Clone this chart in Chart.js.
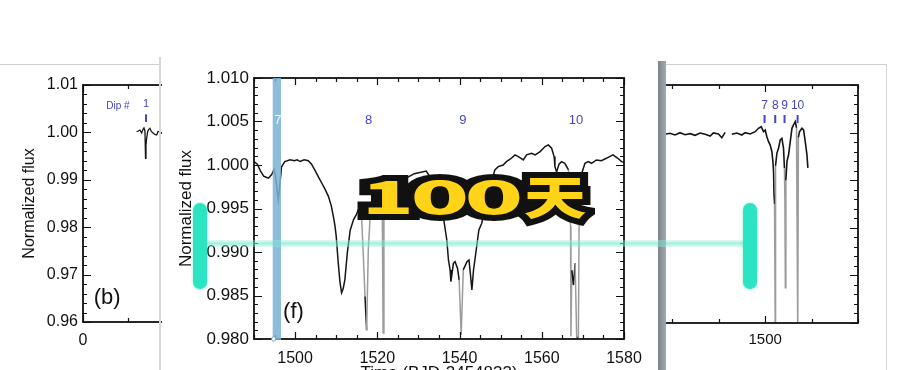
<!DOCTYPE html>
<html>
<head>
<meta charset="utf-8">
<title>Normalized flux</title>
<script src="https://cdn.jsdelivr.net/npm/chart.js@4.4.1/dist/chart.umd.min.js"></script>
<style>
  html, body { margin: 0; padding: 0; background: #fff; }
  #stage { position: relative; width: 900px; height: 370px; overflow: hidden; background: #fff; }
  canvas { position: absolute; top: 0; }
  .box { position: absolute; }
  #panelF { left: 162px; top: 0; width: 496px; height: 370px; background: #fff; }
  #hline { left: 205px; top: 240px; width: 540px; height: 7px;
    background: linear-gradient(rgba(160,240,225,0.35), rgba(110,228,205,0.6) 50%, rgba(160,240,225,0.35)); }
  .vbar { top: 203px; width: 14px; height: 86px; border-radius: 7px; background: #2ce4c1;
    box-shadow: 0 0 3px rgba(44,228,193,0.6); }
  .big { position: absolute; top: 171px; width: 80px; margin-left: -40px; text-align: center;
    font: 900 46px "Noto Sans CJK SC", sans-serif; line-height: 46px; }
  .big.edge { color: #111; -webkit-text-stroke: 12px #111; }
  .big.fill { color: #ffd317; }
</style>
</head>
<body>
<div id="stage">
  <canvas id="chartB" width="370" height="370" style="left:0"></canvas>
  <canvas id="chartR" width="300" height="370" style="left:600px"></canvas>
  <div id="panelF" class="box"><canvas id="chartF" width="496" height="370" style="left:0"></canvas></div>

  <!-- edges of the pasted figures -->
  <div class="box" style="left:0;top:64px;width:160px;height:1px;background:#cfcfcf"></div>
  <div class="box" style="left:159px;top:57px;width:2px;height:313px;background:#d8d8d8"></div>
  <div class="box" style="left:666px;top:64px;width:221px;height:1px;background:#cfcfcf"></div>
  <div class="box" style="left:886px;top:64px;width:1px;height:306px;background:#d4d4d4"></div>
  <div class="box" style="left:658px;top:61px;width:8px;height:309px;background:linear-gradient(90deg,#7d838c,#a4a9b1)"></div>

  <!-- marker overlays -->
  <div id="hline" class="box"></div>
  <div class="box vbar" style="left:193px"></div>
  <div class="box vbar" style="left:743px"></div>

  <span class="big edge" style="left:388px;transform:scaleX(1.85)">1</span>
  <span class="big edge" style="left:440px;transform:scaleX(2.1)">0</span>
  <span class="big edge" style="left:494px;transform:scaleX(2.1)">0</span>
  <span class="big edge" style="left:555px;transform:scaleX(1.36)">天</span>
  <span class="big fill" style="left:388px;transform:scaleX(1.85)">1</span>
  <span class="big fill" style="left:440px;transform:scaleX(2.1)">0</span>
  <span class="big fill" style="left:494px;transform:scaleX(2.1)">0</span>
  <span class="big fill" style="left:555px;transform:scaleX(1.36)">天</span>
</div>

<script>
// panel (b) - start of the light curve, only dip 1 is visible
const bDays = [120.1, 124, 127.5, 131.3, 134, 136.5, 138.7, 140.0, 141, 142, 144.7, 147, 149.9, 153, 157.3, 161, 164.9, 168, 172, 176, 180];
const bFlux = [1.00015, 1.0003, 1.0005, 0.99987, 1.0006, 1.00093, 1.0003, 0.99454, 0.9972, 0.9984, 1.00015, 1.0006, 1.00087, 1.0002, 0.99981, 0.9996, 0.99945, 1.0002, 1.0001, 0.9998, 1.0003];
const bTicksX = [0];
const bTicksY = [0.96, 0.97, 0.98, 0.99, 1.00, 1.01];
const bDipNames = ['1'];
const bDipDays = [141];

// panel (f) - dips 7 to 10
const fDays = [1490.0, 1490.8, 1491.6, 1492.4, 1493.5, 1494.3, 1494.9, 1495.3, 1495.9, 1496.3, 1496.7, 1497.5,
  1498.8, 1499.8, 1500.5, 1501.2, 1502.2, 1503.2, 1504.0, 1504.8, 1505.6, 1506.5, 1507.3, 1508.1, 1508.8,
  1509.3, 1509.7, 1510.0, 1510.5, 1510.9, 1511.3, 1511.7, 1512.1, 1512.7, 1513.4, 1514.2, 1514.8, 1515.4,
  1516.2, 1516.6, 1517.0, 1517.4, 1517.8, 1518.3, 1520.0, 1521.2, 1521.4, 1521.6, 1523.0, 1525.0, 1527.0,
  1529.0, 1531.9, 1533.0, 1534.0, 1535.2, 1536.1, 1536.9, 1537.3, 1537.7, 1537.9, 1538.5, 1538.9, 1539.5,
  1539.9, 1540.4, 1540.9, 1541.8, 1542.3, 1542.7, 1543.0, 1543.4, 1544.0, 1544.7, 1545.4, 1546.4, 1547.4,
  1548.0, 1548.6, 1549.4, 1550.6, 1551.4, 1552.3, 1553.5, 1554.3, 1555.5, 1556.3, 1557.5, 1558.4, 1559.6,
  1560.8, 1561.6, 1562.4, 1563.0, 1563.2, 1563.6, 1564.2, 1564.8, 1565.6, 1566.5, 1567.0, 1567.1, 1567.3,
  1567.7, 1568.1, 1568.5, 1568.9, 1569.1, 1569.7, 1570.5, 1571.3, 1572.1, 1573.3, 1574.5, 1575.7, 1577.3,
  1578.5, 1579.4, 1580.0];
const fFlux = [1.0004, 1.0001, 0.9993, 0.9987, 0.99848, 0.9989, 0.99951, 0.9985, 0.9960, 0.9978, 0.9998, 1.0004,
  1.0006, 1.0005, 1.0006, 1.0004, 1.0006, 1.0005, 1.0001, 0.9994, 0.9987, 0.9979, 0.9972, 0.9964, 0.9953,
  0.9941, 0.9930, 0.9918, 0.9887, 0.9866, 0.9853, 0.9858, 0.9868, 0.9899, 0.9925, 0.9937, 0.9942, 0.9949,
  0.9937, 0.9895, 0.9849, 0.9810, 0.9902, 0.9945, 0.9960, 0.9955, 0.9807, 0.9950, 0.9968, 0.9978, 0.9985,
  0.9990, 0.9993, 0.9985, 0.9972, 0.9955, 0.99388, 0.99138, 0.98908, 0.98794, 0.98659, 0.98870, 0.98889, 0.98813,
  0.98679, 0.98046, 0.98794, 0.98889, 0.98909, 0.98717, 0.98564, 0.98794, 0.99004, 0.99254, 0.99331, 0.9955, 0.99656,
  0.9985, 0.99944, 0.99981, 1.0000, 1.00039, 1.00066, 1.00116, 1.00097, 1.00058, 1.00116, 1.00135, 1.00116, 1.00154,
  1.00212, 1.00231, 1.00193, 1.00097, 0.99981, 0.9992, 1.0001, 1.00039, 1.0002, 0.99944, 0.9930, 0.9803, 0.9879,
  0.9862, 0.9887, 0.9802, 0.9801, 0.9950, 0.9990, 1.0002, 1.0004, 1.0002, 1.00058, 1.0005, 1.00077, 1.00116,
  1.00077, 1.00039, 1.0003];
const fTicksX = [1500, 1520, 1540, 1560, 1580];
const fTicksY = [0.980, 0.985, 0.990, 0.995, 1.000, 1.005, 1.010];
const fDipNames = ['7', '8', '9', '10'];
const fDipDays = [1495.8, 1517.9, 1540.8, 1568.3];
const fBand = [1494.55, 1496.57];

// right panel - end of the light curve, dips 7 to 10 squeezed together
const rDays = [1284.2, 1294.9, 1305.7, 1316.5, 1327.3, 1338.1, 1348.9, 1359.7, 1370.5, 1381.3, 1388.4, 1399.2,
  1406.5, 1413.7, 1420.0, 1428.1, 1438.9, 1449.7, 1456.8, 1467.6, 1478.4, 1485.5, 1491.4, 1496.4, 1500.0,
  1503.6, 1507.2, 1510.8, 1514.4, 1516.6, 1518.0, 1519.0, 1520.2, 1521.6, 1522.2, 1525.2, 1528.7, 1532.4,
  1536.0, 1539.5, 1541.5, 1542.5, 1543.5, 1544.5, 1547.0, 1550.3, 1554.0, 1557.6, 1561.1, 1564.8, 1567.5,
  1570.1, 1571.5, 1574.0, 1579.2, 1582.7, 1586.3, 1590.0, 1592.0];
const rFlux = [0.99964, 0.99985, 0.99950, 0.99998, 0.99956, 0.99977, 0.99943, 0.99992, 0.99964, 0.99929, 0.99992, 0.99971,
  0.99893, 1.00006, null, 0.99964, 0.99992, 0.99950, 0.99998, 0.99971, 1.00019, 1.00090, 1.00124, 1.00019, 1.00055,
  0.99914, 0.99809, 0.99739, 0.99599, 0.99389, 0.99178, 0.9870, 0.9850, 0.9602, 0.9930, 0.99565, 0.9967, 0.99845,
  0.9988, 0.9967, 0.9925, 0.9865, 0.9674, 0.9900, 0.9940, 0.99529, 0.99809, 1.0009, 1.0016, 1.00229, 1.0010,
  0.9602, 0.9990, 1.00019, 1.0009, 1.00055, 0.99809, 0.99529, 0.9926];
const rTicksX = [1500];
const rDipNames = ['7', '8', '9', '10'];
const rDipDays = [1498.6, 1521.6, 1541.7, 1569.8];

const FONT = '"Liberation Sans", Arial, sans-serif';
const DIP_BLUE = '#4646be';

// closed box with inward minor/major ticks on all four sides
const frame = {
  id: 'frame',
  afterDatasetsDraw(chart, args, o) {
    const { ctx, chartArea: a, scales: { x, y } } = chart;
    const vals = (min, max, step) => {
      const out = [];
      for (let n = Math.ceil(min / step - 1e-6); n <= Math.floor(max / step + 1e-6); n++) out.push(n * step);
      return out;
    };
    const isMajor = (v, m) => Math.abs(v / m - Math.round(v / m)) < 1e-6;
    ctx.save();
    ctx.strokeStyle = '#111';
    ctx.lineWidth = 1.2;
    ctx.beginPath();
    vals(x.min, x.max, o.xStep).forEach(v => {
      const px = Math.round(x.getPixelForValue(v)) + 0.5;
      const len = isMajor(v, o.xMajor) ? 7 : 4;
      ctx.moveTo(px, a.bottom); ctx.lineTo(px, a.bottom - len);
      ctx.moveTo(px, a.top); ctx.lineTo(px, a.top + len);
    });
    vals(y.min, y.max, o.yStep).forEach(v => {
      const py = Math.round(y.getPixelForValue(v)) + 0.5;
      const len = isMajor(v, o.yMajor) ? 8 : 4;
      ctx.moveTo(a.left, py); ctx.lineTo(a.left + len, py);
      ctx.moveTo(a.right, py); ctx.lineTo(a.right - len, py);
    });
    ctx.stroke();
    ctx.lineWidth = 1.8;
    ctx.strokeRect(a.left, a.top, a.right - a.left, a.bottom - a.top);
    ctx.restore();
  }
};

// band, dip labels, panel letters and axis titles
const notes = {
  id: 'notes',
  afterDatasetsDraw(chart, args, o) {
    const { ctx, chartArea: a, scales: { x, y } } = chart;
    ctx.save();
    if (o.band) {
      const x0 = x.getPixelForValue(o.band[0]), x1 = x.getPixelForValue(o.band[1]);
      ctx.fillStyle = 'rgba(122,178,212,0.86)';
      ctx.fillRect(x0, a.top, x1 - x0, a.bottom - a.top + 1);
      ctx.beginPath();
      ctx.arc(x0 + 1, a.bottom, 2.2, 0, Math.PI * 2);
      ctx.fillStyle = '#fff'; ctx.fill();
      ctx.strokeStyle = '#6a8fb0'; ctx.lineWidth = 0.8; ctx.stroke();
    }
    ctx.textAlign = 'center';
    ctx.textBaseline = 'middle';
    (o.texts || []).forEach(t => {
      ctx.font = t.font;
      ctx.fillStyle = t.color;
      ctx.fillText(t.text, x.getPixelForValue(t.x) + (t.dx || 0), y.getPixelForValue(t.y));
    });
    ctx.strokeStyle = DIP_BLUE;
    ctx.lineWidth = 2;
    (o.marks || []).forEach(m => {
      const px = x.getPixelForValue(m.x);
      ctx.beginPath();
      ctx.moveTo(px, y.getPixelForValue(m.y0));
      ctx.lineTo(px, y.getPixelForValue(m.y1));
      ctx.stroke();
    });
    ctx.fillStyle = '#111';
    if (o.yTitle) {
      ctx.save();
      ctx.translate(a.left + o.yTitle.dx, (a.top + a.bottom) / 2);
      ctx.rotate(-Math.PI / 2);
      ctx.font = o.yTitle.font;
      ctx.fillText(o.yTitle.text, 0, 0);
      ctx.restore();
    }
    if (o.xTitle) {
      ctx.font = o.xTitle.font;
      ctx.textBaseline = 'top';
      ctx.fillText(o.xTitle.text, (a.left + a.right) / 2, a.bottom + o.xTitle.dy);
    }
    ctx.restore();
  }
};

function points(days, flux) {
  return days.map((d, i) => ({ x: d, y: flux[i] }));
}

function panel(id, cfg) {
  return new Chart(document.getElementById(id), {
    type: 'line',
    data: {
      datasets: [{
        data: points(cfg.days, cfg.flux),
        borderColor: '#151515',
        borderWidth: cfg.lineWidth,
        pointRadius: 0,
        tension: 0,
        segment: {
          borderColor: c => Math.abs(c.p1.parsed.y - c.p0.parsed.y) > cfg.steep ? '#9c9c9c' : '#151515'
        }
      }]
    },
    options: {
      responsive: false,
      animation: false,
      devicePixelRatio: 1,
      layout: { padding: cfg.padding },
      plugins: {
        legend: { display: false },
        tooltip: { enabled: false },
        frame: cfg.frame,
        notes: cfg.notes
      },
      scales: {
        x: {
          type: 'linear',
          min: cfg.xRange[0],
          max: cfg.xRange[1],
          afterBuildTicks: s => { s.ticks = cfg.ticksX.map(v => ({ value: v })); },
          afterFit: s => { s.height = cfg.xHeight; },
          grid: { display: false, drawTicks: false },
          border: { display: false },
          ticks: { autoSkip: false, maxRotation: 0, padding: cfg.xPad, color: '#111',
            font: { family: FONT, size: cfg.xFont }, callback: v => String(v) }
        },
        y: {
          type: 'linear',
          display: cfg.ticksY.length > 0,
          min: cfg.yRange[0],
          max: cfg.yRange[1],
          afterBuildTicks: s => { s.ticks = cfg.ticksY.map(v => ({ value: v })); },
          afterFit: s => { s.width = cfg.yWidth; },
          grid: { display: false, drawTicks: false },
          border: { display: false },
          ticks: { padding: 5, color: '#111', font: { family: FONT, size: cfg.yFont },
            callback: v => v.toFixed(cfg.yDigits) }
        }
      }
    },
    plugins: [frame, notes]
  });
}

// panel (b)
panel('chartB', {
  days: bDays, flux: bFlux, lineWidth: 1.3, steep: 0.008,
  xRange: [0, 600], yRange: [0.96, 1.01], ticksX: bTicksX, ticksY: bTicksY,
  padding: { top: 85, right: 19, left: 0, bottom: 0 }, xHeight: 48, yWidth: 83,
  xPad: 9, xFont: 16, yFont: 16, yDigits: 2,
  frame: { xStep: 100, xMajor: 500, yStep: 0.002, yMajor: 0.01 },
  notes: {
    texts: bDipNames.map((n, i) => ({ text: n, x: bDipDays[i], y: 1.0059, color: DIP_BLUE, font: `11px ${FONT}` }))
      .concat([{ text: 'Dip #', x: bDipDays[0], dx: -28, y: 1.0055, color: DIP_BLUE, font: `10px ${FONT}` },
               { text: '(b)', x: 54, y: 0.9651, color: '#111', font: `22px ${FONT}` }]),
    marks: bDipDays.map(d => ({ x: d, y0: 1.0038, y1: 1.0022 })),
    yTitle: { text: 'Normalized flux', dx: -53, font: `16px ${FONT}` }
  }
});

// panel (f)
panel('chartF', {
  days: fDays, flux: fFlux, lineWidth: 1.5, steep: 0.004,
  xRange: [1490, 1580], yRange: [0.980, 1.010], ticksX: fTicksX, ticksY: fTicksY,
  padding: { top: 78, right: 34, left: 0, bottom: 0 }, xHeight: 31, yWidth: 92,
  xPad: 10, xFont: 16, yFont: 17, yDigits: 3,
  frame: { xStep: 5, xMajor: 20, yStep: 0.001, yMajor: 0.005 },
  notes: {
    band: fBand,
    texts: fDipNames.map((n, i) => ({ text: n, x: fDipDays[i], y: 1.0051,
        color: i === 0 ? '#f2f6ff' : DIP_BLUE, font: `13px ${FONT}` }))
      .concat([{ text: '(f)', x: 1499.6, y: 0.9831, color: '#111', font: `22px ${FONT}` }]),
    yTitle: { text: 'Normalized flux', dx: -68, font: `17px ${FONT}` },
    xTitle: { text: 'Time (BJD-2454833)', dy: 26, font: `17px ${FONT}` }
  }
});

// right panel
panel('chartR', {
  days: rDays, flux: rFlux, lineWidth: 1.6, steep: 0.006,
  xRange: [1200, 1700], yRange: [0.96, 1.01], ticksX: rTicksX, ticksY: [],
  padding: { top: 85, right: 42, left: 26, bottom: 0 }, xHeight: 47, yWidth: 0,
  xPad: 8, xFont: 15, yFont: 15, yDigits: 2,
  frame: { xStep: 100, xMajor: 500, yStep: 0.002, yMajor: 0.01 },
  notes: {
    texts: rDipNames.map((n, i) => ({ text: n, x: rDipDays[i], y: 1.0056, color: DIP_BLUE, font: `12px ${FONT}` })),
    marks: rDipDays.map(d => ({ x: d, y0: 1.0037, y1: 1.0020 }))
  }
});
</script>
</body>
</html>
